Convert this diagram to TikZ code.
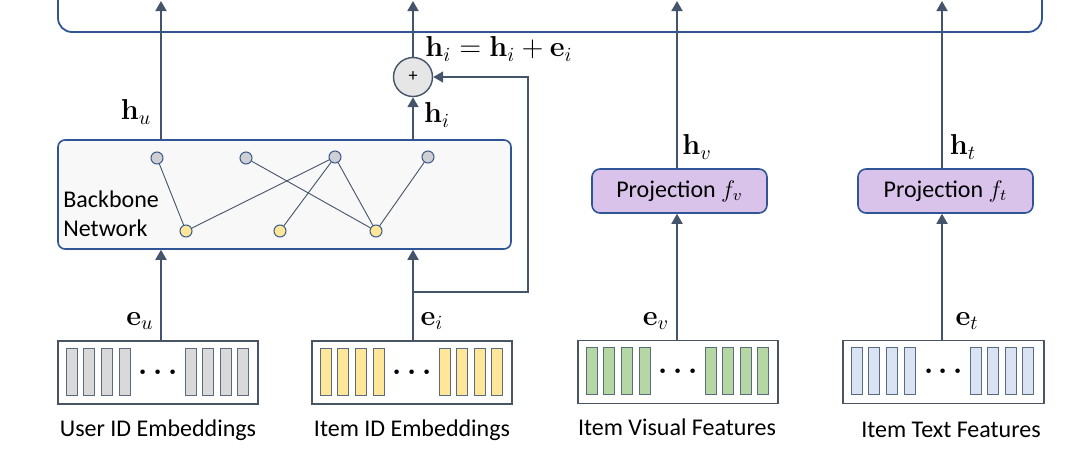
\documentclass[tikz,border=0pt]{standalone}
\usepackage[no-math]{fontspec}
\setmainfont{Carlito}
\usetikzlibrary{arrows.meta}
\definecolor{arrc}{HTML}{44546A}
\definecolor{bluec}{HTML}{2F5597}
\definecolor{bbfill}{HTML}{F8F8F8}
\definecolor{projc}{HTML}{DAC3EA}
\definecolor{embc}{HTML}{4A5563}
\definecolor{barc}{HTML}{5B6B7F}
\definecolor{grayf}{HTML}{D9D9D9}
\definecolor{yellowf}{HTML}{FFE699}
\definecolor{greenf}{HTML}{B4D7A3}
\definecolor{bluef}{HTML}{DAE3F3}
\definecolor{ndgray}{HTML}{D0D0D4}
\definecolor{ndborder}{HTML}{3B5A8C}
\definecolor{plusc}{HTML}{E7E6E6}
\newcommand{\embbars}[2]{%
  \begin{scope}[shift={(#1.north west)}]
    \foreach \bx in {8.7,26.3,44,61.7,127.7,145.3,163,180.3}{
      \draw[bar,fill=#2] (\bx,8) rectangle ++(11,47);
    }
  \end{scope}}
\begin{document}
\begin{tikzpicture}[x=0.5pt,y=-0.5pt,
  font=\fontsize{12}{14}\selectfont,
  arr/.style={draw=arrc, line width=0.9pt, -{Triangle[length=5pt,width=5.5pt]}},
  fb/.style={draw=arrc, line width=0.7pt, -{Triangle[length=5pt,width=5.5pt]}},
  topbox/.style={draw=bluec, line width=0.9pt, rounded corners=7pt},
  emb/.style={draw=embc, line width=0.7pt, minimum width=100pt, minimum height=31.5pt, inner sep=0pt},
  bar/.style={draw=barc, line width=0.5pt},
  bbox/.style={draw=bluec, fill=bbfill, rounded corners=3.5pt, line width=0.8pt, inner sep=0pt},
  proj/.style={draw=bluec, fill=projc, rounded corners=4pt, line width=0.8pt, minimum width=87.5pt, minimum height=22pt, inner sep=0pt},
  nd/.style={circle, draw=ndborder, line width=0.5pt, minimum size=6pt, inner sep=0pt},
  edge/.style={draw=arrc, line width=0.45pt},
  lbl/.style={font=\fontsize{14}{16}\selectfont, inner sep=0pt},
  dots/.style={font=\fontsize{14}{14}\selectfont\boldmath, inner sep=0pt}
]
\useasboundingbox (0,0) rectangle (1078,456);
\clip (0,0) rectangle (1078,456);

% top container (cut off)
\draw[topbox] (58,-40) -- (58,32) -- (1042,32) -- (1042,-40);

% column coordinates
\coordinate (cu) at (161,0);
\coordinate (ci) at (413,0);
\coordinate (cv) at (677,0);
\coordinate (ct) at (942,0);
\coordinate (ttop) at (0,1);

% backbone
\node[bbox, minimum width=226.5pt, minimum height=54.5pt] (bb) at (284.5,194.5) {};
\node[anchor=west, align=left, inner sep=0pt, font=\fontsize{12}{14.5}\selectfont] (bbt) at (63,214) {Backbone\\Network};
\node[nd, fill=ndgray] (g1) at (157,158) {};
\node[nd, fill=ndgray] (g2) at (246,158) {};
\node[nd, fill=ndgray] (g3) at (335,157) {};
\node[nd, fill=ndgray] (g4) at (428,157) {};
\node[nd, fill=yellowf] (y1) at (186,231) {};
\node[nd, fill=yellowf] (y2) at (280,231) {};
\node[nd, fill=yellowf] (y3) at (376,231) {};
\draw[edge] (g1) -- (y1);
\draw[edge] (y1) -- (g3);
\draw[edge] (g2) -- (y3);
\draw[edge] (g3) -- (y2);
\draw[edge] (g3) -- (y3);
\draw[edge] (g4) -- (y3);

% plus
\node[circle, draw=arrc, fill=plusc, minimum size=19.5pt, inner sep=0pt, line width=0.7pt, font=\fontsize{9}{9}\selectfont] (plus) at (413,77) {+};

% projections
\node[proj] (pv) at (679.5,191) {Projection $f_v$};
\node[proj] (pt) at (945.5,191) {Projection $f_t$};

% embedding boxes
\node[emb] (ue) at (158,372.5) {};
\node[emb] (ie) at (412,372.5) {};
\node[emb] (ve) at (678,372) {};
\node[emb, minimum width=100.5pt] (te) at (943.5,372) {};
\embbars{ue}{grayf}
\embbars{ie}{yellowf}
\embbars{ve}{greenf}
\embbars{te}{bluef}
\node[dots] (ued) at (ue.center) {$\cdots$};
\node[dots] (ied) at (ie.center) {$\cdots$};
\node[dots] (ved) at (ve.center) {$\cdots$};
\node[dots] (ted) at (te.center) {$\cdots$};

% captions
\node (cap1) at (158,430) {User ID Embeddings};
\node (cap2) at (412,430) {Item ID Embeddings};
\node (cap3) at (677,427) {Item Visual Features};
\node (cap4) at (951,430) {Item Text Features};

% arrows
\draw[arr] (cu |- ue.north) -- (cu |- bb.south);
\draw[arr] (ci |- ie.north) -- (ci |- bb.south);
\draw[arr] (cu |- bb.north) -- (cu |- ttop);
\draw[arr] (ci |- bb.north) -- (plus.south);
\draw[arr] (plus.north) -- (plus |- ttop);
\draw[arr] (cv |- ve.north) -- (cv |- pv.south);
\draw[arr] (cv |- pv.north) -- (cv |- ttop);
\draw[arr] (ct |- te.north) -- (ct |- pt.south);
\draw[arr] (ct |- pt.north) -- (ct |- ttop);

% feedback
\coordinate (fb0) at (413,292);
\coordinate (fb1) at (528,292);
\draw[fb] (fb0) -- (fb1) |- (plus.east);

% labels
\node[lbl] (lhu) at (136,112) {$\mathbf{h}_u$};
\node[lbl] (lhi) at (437,115) {$\mathbf{h}_i$};
\node[lbl] (leq) at (499,49) {$\mathbf{h}_i=\mathbf{h}_i+\mathbf{e}_i$};
\node[lbl] (lhv) at (697,147) {$\mathbf{h}_v$};
\node[lbl] (lht) at (963,147) {$\mathbf{h}_t$};
\node[lbl] (leu) at (140,321) {$\mathbf{e}_u$};
\node[lbl] (lei) at (432,321) {$\mathbf{e}_i$};
\node[lbl] (lev) at (656,321) {$\mathbf{e}_v$};
\node[lbl] (let) at (967,321) {$\mathbf{e}_t$};
\end{tikzpicture}
\end{document}
